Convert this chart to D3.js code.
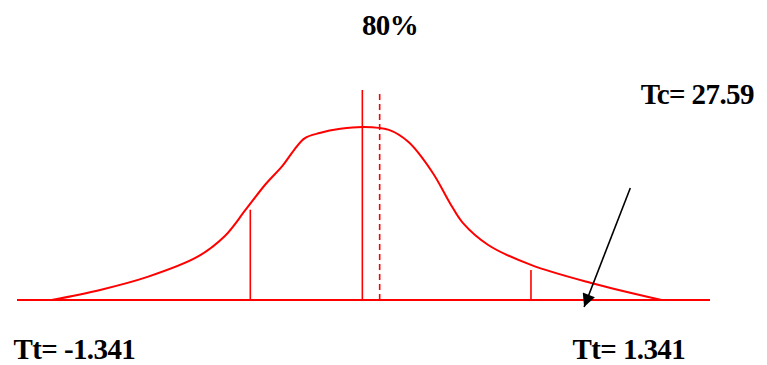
<!DOCTYPE html>
<html>
<head>
<meta charset="utf-8">
<script src="https://cdn.jsdelivr.net/npm/d3@7"></script>
<style>
    body { margin: 0; background: #fff; }
    svg { display: block; }
    .lbl { font-family: "Liberation Serif", "Times New Roman", serif; font-weight: bold; font-size: 29px; letter-spacing: -0.6px; fill: #000; }
</style>
</head>
<body>
<div id="chart"></div>
<script>
    // curve outline (t value, density)
    const curveT = [-2.70, -2.28, -1.87, -1.44, -1.20, -1.02, -0.85, -0.70, -0.60, -0.51, -0.38, -0.20, 0, 0.22, 0.39, 0.60, 0.75, 0.86, 1.08, 1.45, 1.97, 2.58];
    const curveY = [0, 0.048, 0.11, 0.205, 0.305, 0.43, 0.55, 0.64, 0.715, 0.77, 0.795, 0.815, 0.824, 0.81, 0.752, 0.605, 0.46, 0.367, 0.262, 0.167, 0.081, 0];

    // vertical markers: position, top, dashed
    const markerT = [-0.98, -0.01, 0.14, 1.45];
    const markerTop = [0.43, 1.0, 1.0, 0.143];
    const markerDashed = [false, false, true, false];

    // arrow pointing at the critical region
    const arrowT = [2.31, 1.91];
    const arrowY = [0.533, -0.033];

    const labels = [
        {text: "80%", t: 0.23, y: 1.26, anchor: "middle"},
        {text: "Tc= 27.59", t: 2.40, y: 0.935, anchor: "start"},
        {text: "Tt= -1.341", t: -3.03, y: -0.28, anchor: "start"},
        {text: "Tt= 1.341", t: 1.81, y: -0.28, anchor: "start"}
    ];

    const width = 767;
    const height = 365;
    const red = "#ff0000";

    const svg = d3.select("#chart").append("svg")
        .attr("width", width)
        .attr("height", height);

    const x = d3.scaleLinear().domain([-3, 3]).range([17, 710]);
    const y = d3.scaleLinear().domain([0, 1]).range([300, 90]);

    // baseline
    svg.append("line")
        .attr("x1", x(-3)).attr("x2", x(3))
        .attr("y1", y(0)).attr("y2", y(0))
        .attr("stroke", red).attr("stroke-width", 2);

    const pts = curveT.map((t, i) => [t, curveY[i]]);
    svg.append("path")
        .datum(pts)
        .attr("d", d3.line().x(d => x(d[0])).y(d => y(d[1])).curve(d3.curveCatmullRom.alpha(0.5)))
        .attr("fill", "none")
        .attr("stroke", red)
        .attr("stroke-width", 2);

    svg.selectAll(".marker")
        .data(markerT)
        .join("line")
        .attr("class", "marker")
        .attr("x1", d => x(d)).attr("x2", d => x(d))
        .attr("y1", y(0))
        .attr("y2", (d, i) => y(markerTop[i]))
        .attr("stroke", red)
        .attr("stroke-width", 1.6)
        .attr("stroke-dasharray", (d, i) => markerDashed[i] ? "6,4" : null);

    // arrow
    svg.append("defs").append("marker")
        .attr("id", "head")
        .attr("viewBox", "0 0 10 10")
        .attr("refX", 10).attr("refY", 5)
        .attr("markerWidth", 16).attr("markerHeight", 13)
        .attr("markerUnits", "userSpaceOnUse")
        .attr("orient", "auto")
        .append("path")
        .attr("d", "M0,0 L10,5 L0,10 Z")
        .attr("fill", "#000");

    svg.append("line")
        .attr("x1", x(arrowT[0])).attr("y1", y(arrowY[0]))
        .attr("x2", x(arrowT[1])).attr("y2", y(arrowY[1]))
        .attr("stroke", "#000")
        .attr("stroke-width", 1.6)
        .attr("marker-end", "url(#head)");

    svg.selectAll(".lbl")
        .data(labels)
        .join("text")
        .attr("class", "lbl")
        .attr("x", d => x(d.t))
        .attr("y", d => y(d.y))
        .attr("text-anchor", d => d.anchor)
        .text(d => d.text);
</script>
</body>
</html>
